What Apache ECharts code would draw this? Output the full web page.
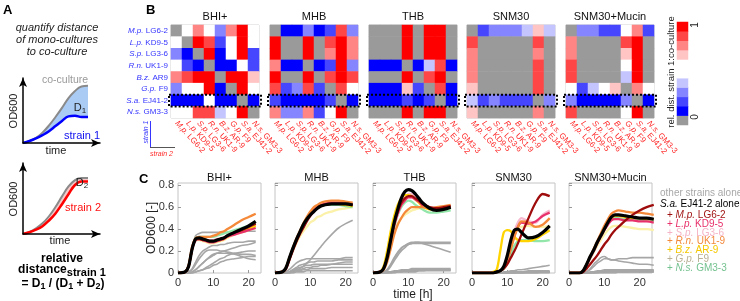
<!DOCTYPE html>
<html>
<head>
<meta charset="UTF-8">
<script src="https://cdn.jsdelivr.net/npm/echarts@6/dist/echarts.min.js"></script>
<style>html,body{margin:0;padding:0;background:#fff}#chart{width:740px;height:301px}</style>
</head>
<body>
<div id="chart"></div>
<script>
const FONT = 'Liberation Sans, Arial, sans-serif';

// ---------- panel B data ----------
const strainsY = ['M.p. LG6-2', 'L.p. KD9-5', 'S.p. LG3-6', 'R.n. UK1-9', 'B.z. AR9', 'G.p. F9', 'S.a. EJ41-2', 'N.s. GM3-3'];
const strainsX = ['M.p. LG6-2', 'L.p. KD9-5', 'S.p. LG3-6', 'R.n. UK1-9', 'B.z. AR-9', 'G.p. F9', 'S.a. EJ41-2', 'N.s. GM3-3'];
const media = ['BHI+', 'MHB', 'THB', 'SNM30', 'SNM30+Mucin'];

// rows = strain 1, cols = strain 2; 0 = grey
const heatBHI = [
  [0, .5, .7, .5, .3, .7, .9, .5],
  [.5, 0, .9, .8, .2, .5, .9, .5],
  [.3, .1, 0, .9, .1, .5, .9, .2],
  [.5, .2, .1, 0, .1, .1, .5, .2],
  [.7, .8, .9, .9, 0, .9, .9, .6],
  [.3, .5, .5, .9, .1, 0, .9, .5],
  [.1, .1, .1, .5, .1, .1, 0, .1],
  [.5, .5, .8, .8, .4, .5, .9, 0]
];
const heatMHB = [
  [0, .1, .1, .3, .1, .2, .8, .3],
  [.9, 0, 0, .9, 0, .8, .9, .7],
  [.9, 0, 0, .9, 0, .7, .9, .7],
  [.7, .1, .1, 0, .1, .2, .9, .3],
  [.9, 0, 0, .9, 0, .8, .9, .8],
  [.8, .2, .3, .8, .2, 0, .8, .5],
  [.2, .1, .1, .1, .1, .2, 0, .1],
  [.7, .3, .3, .7, .2, .5, .9, 0]
];
const heatTHB = [
  [0, 0, 0, .9, 0, .9, .9, 0],
  [0, 0, 0, .9, 0, .9, .9, 0],
  [0, 0, 0, .9, 0, .9, .9, 0],
  [.1, .1, .1, 0, .1, .4, .8, .1],
  [0, 0, 0, .9, 0, .8, .9, 0],
  [.1, .1, .1, .6, .2, 0, .8, .1],
  [.1, .1, .1, .2, .1, .2, 0, .1],
  [0, 0, 0, .9, 0, .9, .9, 0]
];
const heatSNM = [
  [0, .2, .3, .3, .3, .4, .6, .4],
  [.8, 0, 0, 0, 0, 0, .8, 0],
  [.7, 0, 0, 0, 0, 0, .7, 0],
  [.7, 0, 0, 0, 0, 0, .8, 0],
  [.7, 0, 0, 0, 0, 0, .8, 0],
  [.6, 0, 0, 0, 0, 0, .8, 0],
  [.4, .2, .3, .2, .2, .2, 0, .3],
  [.6, 0, 0, 0, 0, 0, .7, 0]
];
const heatMuc = [
  [0, .3, .3, .2, .2, .5, .7, .2],
  [.7, 0, 0, 0, 0, .8, .9, 0],
  [.7, 0, 0, 0, 0, .6, .9, 0],
  [.8, 0, 0, 0, 0, .5, .9, 0],
  [.8, 0, 0, 0, 0, .4, .9, 0],
  [.5, .2, .4, .5, .6, 0, .7, .5],
  [.3, .1, .1, .1, .1, .3, 0, .1],
  [.8, 0, 0, 0, 0, .5, .9, 0]
];
const heatAll = [heatBHI, heatMHB, heatTHB, heatSNM, heatMuc];

const levels = [0, .1, .2, .3, .4, .5, .6, .7, .8, .9];
const levelColors = ['#9a9a9a', '#0000ff', '#4646ff', '#8585ff', '#c4c4ff', '#ffffff', '#ffc4c4', '#ff8585', '#ff4646', '#ff0000'];
const barLevels = [0, .1, .2, .3, .4, .5, .5, .6, .7, .8, .9];

// ---------- panel C data ----------
const T = [0, 2, 3, 4, 5, 6, 7, 8, 9, 10, 11, 12, 13, 14, 16, 18, 20, 22];
const TM = [0, 2, 3, 4, 5, 6, 7, 8, 9, 10, 11, 12, 13, 14, 16, 18, 20, 22, 24];
const coNames = ['M.p.', 'L.p.', 'S.p.', 'R.n.', 'B.z.', 'G.p.', 'N.s.'];
const coStrains = ['LG6-2', 'KD9-5', 'LG3-6', 'UK1-9', 'AR-9', 'F9', 'GM3-3'];
const coColors = ['#9e0c0c', '#e8306a', '#f7b9cf', '#f5893a', '#ffd400', '#fbf1a8', '#93e6aa'];
const coTextColors = ['#9e1010', '#e8306a', '#f4b3c6', '#f28a3c', '#f5c800', '#b9b095', '#74c28f'];

const bhiAlone = [0, .01, .06, .22, .31, .32, .31, .3, .29, .29, .3, .31, .32, .34, .37, .4, .43, .47];
const bhiCo = [
  [0, .01, .06, .22, .31, .31, .3, .3, .29, .29, .3, .31, .32, .34, .37, .39, .42, .45],
  [0, .01, .06, .22, .3, .31, .3, .29, .28, .28, .29, .3, .31, .33, .35, .37, .39, .41],
  [0, .01, .06, .22, .31, .32, .31, .3, .3, .3, .31, .31, .32, .34, .36, .39, .42, .44],
  [0, .01, .07, .24, .32, .33, .33, .33, .33, .34, .35, .37, .38, .4, .44, .48, .51, .54],
  [0, .01, .06, .22, .31, .32, .31, .3, .29, .29, .29, .3, .31, .33, .36, .38, .4, .43],
  [0, .01, .06, .22, .3, .3, .29, .28, .27, .27, .28, .29, .3, .32, .35, .37, .39, .41],
  [0, .01, .06, .23, .32, .33, .33, .33, .33, .33, .34, .35, .36, .37, .39, .41, .43, .45]
];
const bhiOthers = [
  [0, 0, .05, .22, .34, .36, .37, .37, .37, .37, .37, .37, .37, .37, .38, .38, .38, .38],
  [0, 0, .01, .04, .1, .16, .2, .22, .24, .25, .25, .26, .26, .27, .28, .28, .29, .29],
  [0, 0, 0, .01, .03, .06, .09, .12, .14, .16, .18, .19, .2, .21, .23, .25, .26, .28],
  [0, 0, .01, .03, .08, .13, .17, .2, .21, .21, .21, .2, .2, .19, .18, .17, .17, .16],
  [0, 0, 0, .01, .03, .06, .09, .12, .15, .17, .18, .18, .18, .18, .17, .15, .13, .12],
  [0, 0, 0, 0, .01, .02, .03, .05, .07, .09, .11, .13, .14, .16, .18, .19, .2, .2],
  [0, 0, 0, 0, .01, .02, .03, .04, .05, .07, .08, .1, .11, .12, .13, .14, .15, .15]
];

const mhbAlone = [0, .01, .04, .13, .22, .3, .37, .44, .49, .53, .56, .59, .61, .62, .63, .63, .63, .62];
const mhbCo = [
  [0, .01, .03, .11, .2, .28, .35, .41, .47, .52, .56, .59, .61, .62, .63, .63, .63, .62],
  [0, .01, .04, .12, .21, .29, .36, .42, .48, .53, .57, .6, .62, .63, .64, .64, .63, .62],
  [0, .01, .04, .13, .22, .3, .37, .44, .5, .54, .57, .6, .62, .63, .64, .64, .63, .62],
  [0, .01, .04, .13, .22, .31, .38, .45, .51, .56, .6, .62, .64, .65, .66, .66, .65, .64],
  [0, .01, .04, .13, .22, .3, .37, .44, .5, .54, .57, .6, .61, .62, .63, .63, .62, .61],
  [0, .01, .04, .12, .2, .27, .33, .38, .42, .46, .48, .51, .52, .54, .56, .58, .59, .6],
  [0, .01, .04, .13, .22, .3, .37, .44, .5, .54, .57, .6, .61, .62, .62, .62, .61, .6]
];
const mhbOthers = [
  [0, 0, 0, .01, .02, .03, .04, .06, .09, .12, .16, .2, .24, .28, .35, .41, .45, .48],
  [0, 0, .01, .03, .06, .09, .11, .12, .13, .13, .13, .13, .13, .13, .13, .13, .14, .14],
  [0, 0, 0, .01, .03, .05, .07, .08, .09, .1, .1, .11, .11, .11, .11, .12, .12, .12],
  [0, 0, 0, .01, .02, .04, .05, .06, .07, .07, .08, .08, .08, .08, .08, .08, .08, .08],
  [0, 0, 0, 0, .01, .02, .03, .04, .05, .05, .06, .06, .07, .07, .08, .09, .1, .1],
  [0, 0, 0, 0, .01, .02, .02, .03, .03, .04, .04, .04, .04, .04, .05, .05, .05, .05],
  [0, 0, 0, 0, 0, .01, .01, .01, .02, .02, .02, .02, .02, .02, .02, .02, .02, .02]
];

const thbAlone = [0, .01, .04, .14, .3, .46, .58, .68, .74, .76, .75, .72, .68, .64, .59, .57, .58, .6];
const thbCo = [
  [0, .01, .04, .14, .3, .45, .56, .64, .68, .7, .7, .68, .66, .63, .6, .59, .6, .61],
  [0, .01, .04, .13, .28, .43, .54, .62, .66, .69, .69, .67, .65, .62, .59, .58, .59, .6],
  [0, .01, .04, .13, .28, .43, .54, .62, .68, .72, .72, .7, .67, .64, .6, .59, .6, .6],
  [0, .01, .03, .1, .22, .35, .44, .5, .55, .58, .6, .6, .6, .6, .59, .6, .61, .62],
  [0, .01, .06, .2, .38, .52, .62, .68, .71, .71, .7, .67, .64, .61, .58, .58, .59, .6],
  [0, .01, .04, .12, .26, .38, .45, .5, .53, .55, .57, .58, .59, .59, .59, .59, .59, .59],
  [0, .01, .04, .13, .28, .42, .53, .6, .64, .66, .65, .62, .6, .58, .55, .55, .56, .57]
];
const thbOthers = [
  [0, 0, .01, .03, .08, .14, .19, .23, .25, .27, .28, .28, .28, .28, .28, .28, .28, .28],
  [0, 0, .01, .03, .07, .13, .18, .22, .25, .26, .27, .27, .27, .27, .27, .27, .27, .27],
  [0, 0, .01, .02, .06, .11, .16, .2, .23, .26, .27, .28, .28, .27, .25, .23, .21, .19],
  [0, 0, 0, .01, .01, .02, .02, .03, .03, .03, .04, .04, .04, .04, .04, .04, .04, .04],
  [0, 0, 0, 0, .01, .01, .02, .02, .02, .03, .03, .03, .03, .03, .03, .03, .03, .03],
  [0, 0, 0, 0, 0, .01, .01, .01, .02, .02, .02, .02, .02, .02, .03, .03, .03, .03],
  [0, 0, 0, 0, 0, 0, .01, .01, .01, .01, .01, .01, .02, .02, .02, .02, .02, .02]
];

const snmAlone = [0, 0, 0, 0, 0, 0, .01, .02, .06, .16, .3, .39, .4, .37, .32, .33, .37, .43];
const snmCo = [
  [0, 0, 0, 0, 0, 0, .01, .02, .04, .08, .14, .2, .27, .35, .5, .64, .72, .7],
  [0, 0, 0, 0, 0, 0, .01, .02, .05, .12, .23, .34, .42, .46, .45, .47, .52, .55],
  [0, 0, 0, 0, 0, 0, .01, .02, .05, .13, .25, .38, .46, .5, .47, .46, .53, .57],
  [0, 0, 0, 0, 0, 0, .01, .02, .05, .12, .22, .33, .42, .47, .46, .42, .44, .5],
  [0, 0, 0, 0, 0, .01, .03, .2, .37, .39, .38, .33, .3, .29, .29, .31, .35, .39],
  [0, 0, 0, 0, 0, 0, .01, .02, .06, .14, .25, .34, .4, .42, .43, .42, .42, .43],
  [0, 0, 0, 0, 0, 0, .01, .02, .04, .09, .17, .25, .29, .3, .3, .29, .29, .3]
];
const snmOthers = [
  [0, 0, 0, 0, 0, 0, 0, 0, .01, .01, .02, .02, .03, .03, .04, .05, .06, .07],
  [0, 0, 0, 0, 0, 0, 0, 0, 0, .01, .01, .01, .01, .01, .02, .02, .02, .02],
  [0, 0, 0, 0, 0, 0, 0, 0, 0, 0, .01, .01, .01, .01, .01, .01, .01, .01],
  [0, 0, 0, 0, 0, 0, 0, 0, 0, 0, 0, 0, .01, .01, .01, .01, .01, .01],
  [0, 0, 0, 0, 0, 0, 0, 0, 0, 0, 0, 0, 0, 0, .01, .01, .01, .01],
  [0, 0, 0, 0, 0, 0, 0, 0, 0, 0, 0, 0, 0, 0, 0, 0, .01, .01],
  [0, 0, 0, 0, 0, 0, 0, 0, 0, 0, 0, 0, 0, 0, 0, 0, 0, 0]
];

const mucAlone = [0, 0, 0, .02, .08, .15, .21, .28, .34, .4, .46, .51, .53, .53, .52, .51, .5, .5, .49];
const mucCo = [
  [0, 0, 0, .01, .04, .08, .12, .16, .21, .26, .3, .35, .39, .42, .48, .53, .57, .6, .62],
  [0, 0, 0, .02, .07, .14, .2, .27, .33, .39, .44, .48, .49, .49, .48, .48, .47, .47, .46],
  [0, 0, 0, .02, .08, .15, .21, .28, .34, .4, .45, .5, .52, .52, .51, .5, .5, .49, .49],
  [0, 0, 0, .02, .08, .15, .22, .29, .36, .43, .49, .54, .56, .57, .56, .55, .55, .54, .53],
  [0, 0, 0, .02, .08, .15, .21, .28, .34, .4, .46, .5, .52, .52, .51, .5, .5, .49, .49],
  [0, 0, 0, .02, .07, .13, .19, .25, .3, .35, .39, .42, .43, .43, .42, .41, .4, .4, .39],
  [0, 0, 0, .02, .08, .15, .21, .28, .34, .4, .45, .49, .5, .5, .49, .49, .48, .48, .47]
];
const mucOthers = [
  [0, 0, 0, 0, .01, .04, .08, .11, .14, .15, .13, .12, .12, .13, .13, .14, .14, .14, .14],
  [0, 0, 0, 0, .01, .03, .06, .09, .11, .13, .13, .12, .12, .11, .1, .09, .08, .08, .07],
  [0, 0, 0, 0, 0, .01, .01, .02, .02, .03, .03, .03, .03, .03, .03, .03, .03, .03, .03],
  [0, 0, 0, 0, 0, 0, .01, .01, .01, .02, .02, .02, .02, .02, .02, .02, .02, .02, .02],
  [0, 0, 0, 0, 0, 0, 0, .01, .01, .01, .01, .01, .01, .01, .01, .02, .02, .02, .02],
  [0, 0, 0, 0, 0, 0, 0, 0, .01, .01, .01, .01, .01, .01, .01, .01, .01, .01, .01],
  [0, 0, 0, 0, 0, 0, 0, 0, 0, 0, 0, 0, 0, .01, .01, .01, .01, .01, .01]
];

const growthPanels = [
  { t: T, alone: bhiAlone, co: bhiCo, others: bhiOthers },
  { t: T, alone: mhbAlone, co: mhbCo, others: mhbOthers },
  { t: T, alone: thbAlone, co: thbCo, others: thbOthers },
  { t: T, alone: snmAlone, co: snmCo, others: snmOthers },
  { t: TM, alone: mucAlone, co: mucCo, others: mucOthers }
];

// ---------- panel A schematic curves ----------
const schemX = [0, 1, 2, 3, 4, 5, 6, 7, 8, 9, 10];
const coCulture1 = [0, .3, .8, 1.6, 2.7, 4.0, 5.4, 6.9, 8.0, 8.7, 8.8];
const strain1 = [0, .3, .7, 1.2, 1.8, 2.6, 3.4, 4.1, 4.2, 4.0, 4.0];
const coCulture2 = [0, .3, .8, 1.5, 2.5, 3.8, 5.3, 6.7, 7.6, 7.9, 7.9];
const strain2 = [0, .25, .6, 1.1, 1.9, 2.9, 4.2, 5.6, 6.9, 7.4, 7.4];

// ---------- layout ----------
const heatLeft = [171, 270, 369, 467, 566];
const heatTop = 25, heatW = 88, heatH = 93;
const lineLeft = [178, 275, 373, 472, 569];
const lineTop = 183, lineW = 83, lineH = 90;

const zip = (xs, ys) => xs.map((x, i) => [x, ys[i]]);
const grid = [], xAxis = [], yAxis = [], series = [];

function splitName(s) {
  const k = s.indexOf(' ');
  return [s.slice(0, k), s.slice(k + 1)];
}

// heatmaps (grid 0..4)
heatAll.forEach((m, g) => {
  grid.push({ left: heatLeft[g], top: heatTop, width: heatW, height: heatH, show: true, borderColor: '#c8c8c8', borderWidth: 1, backgroundColor: 'transparent', outerBoundsMode: 'none' });
  xAxis.push({
    type: 'category', gridIndex: g, data: strainsX, axisLine: { show: false }, axisTick: { show: false },
    axisLabel: {
      interval: 0, rotate: -48, margin: 4, color: '#ff2a2a', fontSize: 8, fontFamily: FONT,
      formatter: v => { const p = splitName(v); return '{i|' + p[0] + '} ' + p[1]; },
      rich: { i: { fontStyle: 'italic', color: '#ff2a2a', fontSize: 8, fontFamily: FONT } }
    }
  });
  yAxis.push({
    type: 'category', gridIndex: g, data: strainsY, inverse: true, axisLine: { show: false }, axisTick: { show: false },
    axisLabel: {
      show: g === 0, interval: 0, margin: 3, color: '#3535ff', fontSize: 8, fontFamily: FONT,
      formatter: v => { const p = splitName(v); return '{i|' + p[0] + '} ' + p[1]; },
      rich: { i: { fontStyle: 'italic', color: '#3535ff', fontSize: 8, fontFamily: FONT } }
    }
  });
  const data = [];
  m.forEach((row, r) => row.forEach((v, c) => data.push([c, r, v])));
  series.push({ type: 'heatmap', xAxisIndex: g, yAxisIndex: g, data, itemStyle: { borderWidth: 0 }, emphasis: { disabled: true }, silent: true });
});

// colour bar (grid 5)
grid.push({ left: 677, top: 22, width: 11, height: 103, outerBoundsMode: 'none' });
xAxis.push({ type: 'category', gridIndex: 5, data: ['c'], show: false });
yAxis.push({ type: 'category', gridIndex: 5, data: barLevels.map((v, i) => i), show: false });
series.push({ type: 'heatmap', xAxisIndex: 5, yAxisIndex: 5, data: barLevels.map((v, i) => [0, i, v]), silent: true });

// schematic (grid 6, 7)
const schem = [
  { top: 78, h: 65, max: 10, co: coCulture1, st: strain1, fill: '#a9cbf4', col: '#0000ff' },
  { top: 163, h: 71, max: 10, co: coCulture2, st: strain2, fill: '#f8c9c9', col: '#ff0000' }
];
schem.forEach((s, k) => {
  const g = 6 + k;
  grid.push({ left: 23, top: s.top, width: 77, height: s.h, outerBoundsMode: 'none' });
  const axisBase = { axisTick: { show: false }, axisLabel: { show: false }, splitLine: { show: false }, z: 5,
    axisLine: { show: true, symbol: ['none', 'arrow'], symbolSize: [6, 9], lineStyle: { color: '#000', width: 1.5 } } };
  xAxis.push(Object.assign({ type: 'value', gridIndex: g, min: 0, max: 11.85 }, axisBase));
  yAxis.push(Object.assign({ type: 'value', gridIndex: g, min: 0, max: s.max }, axisBase));
  series.push({ type: 'line', xAxisIndex: g, yAxisIndex: g, data: zip(schemX, s.co), smooth: 0.4, showSymbol: false, silent: true,
    lineStyle: { color: '#8a8a8a', width: 2 }, areaStyle: { color: s.fill, opacity: 1 } });
  series.push({ type: 'line', xAxisIndex: g, yAxisIndex: g, data: zip(schemX, s.st), smooth: 0.4, showSymbol: false, silent: true,
    lineStyle: { color: s.col, width: 2.5 }, areaStyle: { color: '#fff', opacity: 1 } });
});

// growth curves (grid 8..12)
growthPanels.forEach((p, k) => {
  const g = 8 + k;
  grid.push({ left: lineLeft[k], top: lineTop, width: lineW, height: lineH, show: true, borderColor: '#c4c4c4', borderWidth: 1, backgroundColor: 'transparent', outerBoundsMode: 'none' });
  xAxis.push({ type: 'value', gridIndex: g, min: 0, max: 23.5, interval: 10, splitLine: { show: false },
    axisLine: { show: false }, axisTick: { inside: true, length: 3, lineStyle: { color: '#999' } },
    axisLabel: { margin: 4, fontSize: 11, color: '#333', fontFamily: FONT } });
  yAxis.push({ type: 'value', gridIndex: g, min: 0, max: 0.82, interval: 0.2, splitLine: { show: false },
    axisLine: { show: false }, axisTick: { inside: true, length: 3, lineStyle: { color: '#999' } },
    axisLabel: { show: k === 0, margin: 4, fontSize: 11, color: '#333', fontFamily: FONT } });
  const base = { type: 'line', xAxisIndex: g, yAxisIndex: g, smooth: 0.3, showSymbol: false, silent: true, clip: true };
  p.others.forEach(d => series.push(Object.assign({ data: zip(p.t, d), lineStyle: { color: '#a6a6a6', width: 1.6 } }, base)));
  [5, 6, 2, 4, 1, 3, 0].forEach(i => series.push(Object.assign({ data: zip(p.t, p.co[i]), lineStyle: { color: coColors[i], width: 2.3 } }, base)));
  series.push(Object.assign({ data: zip(p.t, p.alone), lineStyle: { color: '#000', width: 3.2 } }, base));
});

// ---------- text ----------
function txt(text, x, y, o) {
  o = o || {};
  return {
    type: 'text', x, y, rotation: o.rot || 0, z: 100, silent: true,
    style: {
      text, fill: o.fill || '#222', font: (o.style || '') + ' ' + (o.size || 11) + 'px ' + FONT,
      align: o.align || 'left', verticalAlign: 'middle', rich: o.rich
    }
  };
}
// pieces of text set one after another (for subscripts)
const measureCtx = document.createElement('canvas').getContext('2d');
function textRun(parts, cx, y, style, fill) {
  const widths = parts.map(p => {
    measureCtx.font = style + ' ' + p[1] + 'px ' + FONT;
    return measureCtx.measureText(p[0]).width;
  });
  let x = cx - widths.reduce((a, b) => a + b, 0) / 2;
  return parts.map((p, i) => {
    const el = txt(p[0], x, y + (p[2] || 0), { style, size: p[1], fill });
    x += widths[i];
    return el;
  });
}

const graphics = [
  txt('A', 3, 10, { style: 'bold', size: 13, fill: '#000' }),
  txt('B', 146, 10, { style: 'bold', size: 13, fill: '#000' }),
  txt('C', 139, 179, { style: 'bold', size: 13, fill: '#000' }),
  txt('quantify distance', 57, 28, { style: 'italic', align: 'center' }),
  txt('of mono-cultures', 57, 40, { style: 'italic', align: 'center' }),
  txt('to co-culture', 57, 52, { style: 'italic', align: 'center' }),
  txt('co-culture', 65, 80, { fill: '#999', align: 'center', size: 10.5 }),
  ...textRun([['D', 11], ['1', 8, 3]], 80, 108, '', '#222'),
  txt('strain 1', 82, 136, { fill: '#1010ee', align: 'center' }),
  txt('time', 56, 151, { align: 'center' }),
  txt('OD600', 14, 111, { rot: Math.PI / 2, align: 'center' }),
  ...textRun([['D', 11], ['2', 8, 3]], 82, 183, '', '#222'),
  txt('strain 2', 83, 208, { fill: '#ff1010', align: 'center' }),
  txt('time', 60, 241, { align: 'center' }),
  txt('OD600', 14, 199, { rot: Math.PI / 2, align: 'center' }),
  txt('relative', 62, 259, { style: 'bold', size: 12, align: 'center', fill: '#000' }),
  ...textRun([['distance', 12], ['strain 1', 11, 3]], 62, 270, 'bold', '#000'),
  ...textRun([['= D', 12], ['1', 9, 3], [' / (D', 12], ['1', 9, 3], [' + D', 12], ['2', 9, 3], [')', 12]], 63, 284, 'bold', '#000'),
  // panel B extras
  txt('strain 1', 146, 132, { rot: Math.PI / 2, align: 'center', style: 'italic', size: 7, fill: '#3535ff' }),
  txt('strain 2', 150, 154, { style: 'italic', size: 7, fill: '#ff2a2a' }),
  { type: 'line', z: 100, silent: true, shape: { x1: 150.5, y1: 121, x2: 150.5, y2: 147.5 }, style: { stroke: '#3535ff', lineWidth: 1 } },
  { type: 'line', z: 100, silent: true, shape: { x1: 150, y1: 147.5, x2: 175, y2: 147.5 }, style: { stroke: '#555', lineWidth: 1 } },
  txt('rel. dist. strain 1:co-culture', 671, 72, { rot: Math.PI / 2, align: 'center', size: 9.5, fill: '#222' }),
  txt('1', 695, 25, { rot: Math.PI / 2, align: 'center', size: 10 }),
  txt('0', 695, 117, { rot: Math.PI / 2, align: 'center', size: 10 }),
  // panel C extras
  txt('OD600 [-]', 152, 228, { rot: Math.PI / 2, align: 'center', size: 12 }),
  txt('time [h]', 413, 295, { align: 'center', size: 12 }),
  txt('other strains alone', 660, 193, { size: 10, fill: '#a8a8a8' }),
  txt('{i|S.a.} EJ41-2 alone', 660, 204, { size: 10, fill: '#000',
    rich: { i: { fontStyle: 'italic', fontSize: 10, fontFamily: FONT, fill: '#000' } } })
];
media.forEach((m, k) => {
  graphics.push(txt(m, heatLeft[k] + heatW / 2, 17, { align: 'center', size: 11, fill: '#111' }));
  graphics.push(txt(m, lineLeft[k] + lineW / 2, 178, { align: 'center', size: 11, fill: '#111' }));
  // dotted box around the S.a. EJ41-2 row
  const rowH = heatH / strainsY.length;
  const r = strainsY.indexOf('S.a. EJ41-2');
  graphics.push({ type: 'rect', z: 100, silent: true,
    shape: { x: heatLeft[k] - 2, y: heatTop + r * rowH, width: heatW + 4, height: rowH },
    style: { fill: 'none', stroke: '#000', lineWidth: 2, lineDash: [2, 2] } });
});
coNames.forEach((n, i) => {
  graphics.push(txt('+ {i|' + n + '} ' + coStrains[i], 667, 215 + i * 8.9, { size: 10, fill: coTextColors[i],
    rich: { i: { fontStyle: 'italic', fontSize: 10, fontFamily: FONT, fill: coTextColors[i] } } }));
});

const chart = echarts.init(document.getElementById('chart'), null, { renderer: 'canvas' });
chart.setOption({
  animation: false,
  backgroundColor: '#fff',
  textStyle: { fontFamily: FONT },
  grid, xAxis, yAxis, series,
  visualMap: {
    type: 'piecewise', show: false, seriesIndex: [0, 1, 2, 3, 4, 5], dimension: 2,
    pieces: levels.map((v, i) => ({ gte: v - 0.05, lt: v + 0.05, color: levelColors[i] }))
  },
  graphic: graphics
});
</script>
</body>
</html>
